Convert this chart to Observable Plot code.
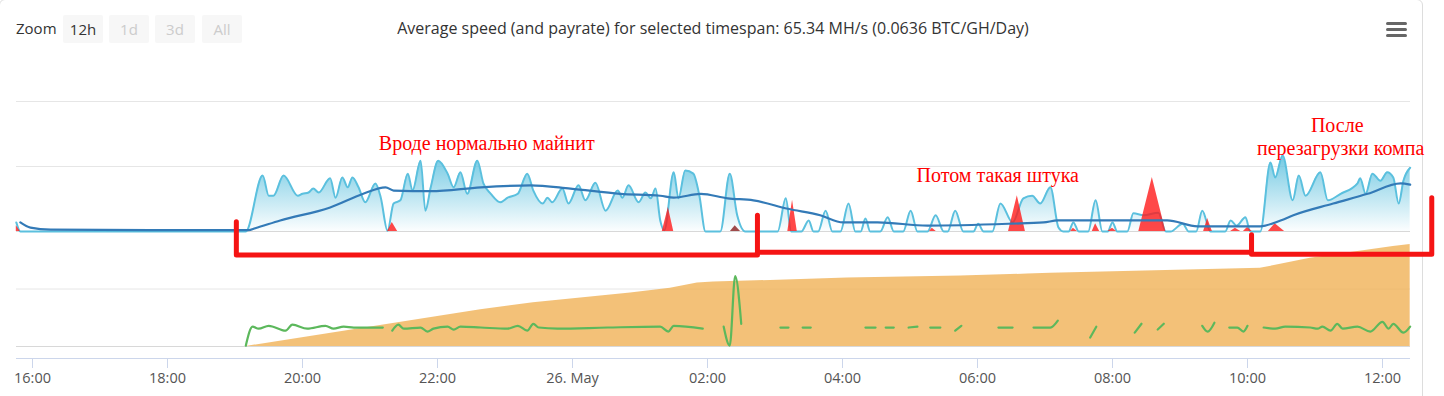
<!DOCTYPE html>
<html><head><meta charset="utf-8">
<script src="https://cdn.jsdelivr.net/npm/d3@7"></script>
<script src="https://cdn.jsdelivr.net/npm/@observablehq/plot@0.6"></script>
<style>
html,body{margin:0;padding:0;background:#fff;}
#wrap{position:relative;width:1444px;height:396px;overflow:hidden;font-family:"Open Sans",sans-serif;}
.card{position:absolute;left:-1px;top:-1px;width:1424px;height:420px;border:1px solid #ddd;border-radius:6px;box-sizing:border-box;}
.layer{position:absolute;left:0;top:0;}
.hdr{position:absolute;top:14px;height:28px;line-height:28px;font-size:15px;color:#333;white-space:nowrap;}
.btn{position:absolute;top:15px;width:40px;height:28px;line-height:28px;text-align:center;background:#f7f7f7;border-radius:2px;font-size:15px;color:#ccc;}
.bar{position:absolute;left:1386px;width:21px;height:3px;background:#666;border-radius:2px;}
</style></head>
<body>
<div id="wrap">
  <div class="card"></div>
  <div class="hdr" style="left:16px;">Zoom</div>
  <div id="btns"></div>
  <div id="title" class="hdr" style="left:0;width:1426px;text-align:center;font-size:16px;"></div>
  <div class="bar" style="top:22px"></div>
  <div class="bar" style="top:28px"></div>
  <div class="bar" style="top:34px"></div>
  <div id="bottomLayer" class="layer"></div>
  <div id="topLayer" class="layer"></div>
  <div id="axisLayer" class="layer"></div>
</div>
<script>
// ---- data (time = hours since 25 May 00:00) ----
const titleText = "Average speed (and payrate) for selected timespan: 65.34 MH/s (0.0636 BTC/GH/Day)";
const zoomButtons = ["12h", "1d", "3d", "All"];
const xDomain = [15.763, 36.415];
const tickHours = [16, 18, 20, 22, 24, 26, 28, 30, 32, 34, 36];
const tickLabels = ["16:00", "18:00", "20:00", "22:00", "26. May", "02:00", "04:00", "06:00", "08:00", "10:00", "12:00"];
const hashGrid = [0, 100, 200];
const lowerGrid = [0, 0.2];

// hashrate (MH/s)
const hashHours = [15.76,15.82,19.16,19.41,19.50,19.57,19.72,19.93,20.00,20.09,
20.16,20.24,20.41,20.49,20.59,20.67,20.74,20.83,20.93,21.08,
21.16,21.26,21.35,21.45,21.56,21.63,21.75,21.82,21.90,22.01,
22.15,22.24,22.34,22.44,22.59,22.68,22.79,22.93,23.04,23.19,
23.33,23.42,23.56,23.63,23.70,23.85,23.94,24.09,24.19,24.34,
24.49,24.67,24.74,24.83,24.98,25.08,25.16,25.23,25.30,25.36,
25.50,25.57,25.67,25.79,25.88,25.97,26.19,26.33,26.44,26.56,
27.04,27.16,27.24,27.39,27.50,27.57,27.64,27.75,27.85,27.97,
28.09,28.19,28.27,28.34,28.41,28.56,28.67,28.76,28.90,29.01,
29.11,29.26,29.38,29.50,29.56,29.67,29.79,29.94,30.01,30.09,
30.22,30.34,30.52,30.68,30.81,30.93,31.08,31.20,31.27,31.35,
31.42,31.50,31.64,31.75,31.85,31.93,32.00,32.07,32.22,32.31,
32.46,32.68,32.79,32.86,33.04,33.13,33.24,33.33,33.45,33.67,
33.75,33.84,33.97,34.04,34.19,34.34,34.41,34.52,34.67,34.76,
34.86,35.08,35.19,35.38,35.63,35.67,35.75,35.85,35.97,36.07,
36.16,36.24,36.31,36.41];
const hashMHs = [14,0,0,86,55,55,86,55,58,60,
66,60,82,52,83,68,83,68,45,74,
52,1,43,48,89,63,109,32,68,109,
89,68,91,58,109,74,58,45,52,58,
89,63,43,52,45,66,43,71,48,75,
32,63,52,71,45,60,51,66,17,2,
91,51,94,89,55,0,0,89,25,0,
0,51,0,0,17,0,0,32,0,0,
43,0,0,20,0,0,22,0,0,32,
0,0,25,0,0,32,0,0,12,0,
0,43,14,51,55,43,68,6,0,0,
14,0,0,48,0,0,14,0,0,28,
25,29,0,0,12,0,0,32,0,0,
17,9,22,0,0,106,83,117,48,86,
55,91,48,58,74,82,58,89,78,91,
83,43,78,98];

// moving average (MH/s)
const avgHours = [15.82,15.97,16.27,17.75,19.20,19.30,19.67,20.41,20.90,21.23,
21.35,21.90,22.64,23.38,23.97,24.71,25.30,25.50,25.90,26.30,
26.68,27.19,27.67,28.01,28.52,29.26,30.49,30.98,31.19,32.81,
33.26,34.19,34.49,34.68,35.27,35.78,36.27,36.41];
const avgMHs = [14,6,3,2,2,5,17,37,58,68,
63,62,68,71,66,58,55,52,58,51,
48,35,25,14,14,9,12,14,17,17,
8,8,17,25,43,58,74,72];

// rejected (MH/s)
const rejHours = [15.76,15.82, 21.26,21.33,21.41, 25.33,25.42,25.50, 27.19,27.26,27.33,
29.29,29.33,29.39, 30.46,30.59,30.71, 31.38,31.42,31.48, 31.70,31.75,31.81,
31.93,32.00,32.06, 32.39,32.59,32.79, 33.35,33.41,33.48, 33.75,33.82,33.90,
33.94,34.00,34.07, 34.31,34.41,34.55];
const rejMHs = [9,0, 0,14,0, 0,37,0, 0,48,0,
0,5,0, 0,55,0, 0,5,0, 0,12,0,
0,5,0, 0,83,0, 0,20,0, 0,5,0,
0,6,0, 0,12,0];
const staleHours = [26.34, 26.41, 26.49];
const staleMHs = [0, 9, 0];

// payrate (BTC/GH/Day), null = no data
const payHours = [19.16,19.26,19.35,19.50,19.75,19.85,20.07,20.34,20.46,20.61,20.76,21.19,21.26,
21.33,21.42,21.50,21.75,21.85,21.94,22.15,22.24,22.34,22.64,23.04,23.19,23.33,23.42,23.50,23.78,24.52,25.30,25.42,25.50,25.93,26.10,
26.24,26.33,26.41,26.50,26.80,
27.08,27.20,27.30, 27.41,27.53,27.90, 28.34,28.49,28.55, 28.64,28.76,28.85,
28.98,29.11,29.20, 29.30,29.45,29.55, 29.67,29.76,30.00, 30.31,30.52,30.60,
30.83,31.08,31.19,31.40, 31.67,31.76,32.00, 32.33,32.43,32.55, 32.67,32.76,33.00,
33.33,33.41,33.51,33.60, 33.73,33.85,33.94,34.00,34.10,
34.24,34.41,34.56,34.93,35.04,35.11,35.23,35.33,35.41,35.63,35.82,36.00,36.09,36.16,36.31,36.41];
const payRate = [0.003,0.069,0.062,0.072,0.055,0.076,0.062,0.072,0.062,0.069,0.066,0.066,null,
0.055,0.076,0.062,0.066,0.052,0.062,0.069,0.059,0.069,0.066,0.062,0.072,0.055,0.079,0.066,0.062,0.066,0.069,0.052,0.072,0.062,null,
0.069,0.003,0.245,0.079,null,
0.066,0.066,null, 0.066,0.066,null, 0.066,0.066,null, 0.066,0.066,null,
0.066,0.069,null, 0.066,0.066,null, 0.055,0.072,null, 0.066,0.066,null,
0.066,0.066,0.090,null, 0.031,0.069,null, 0.048,0.079,null, 0.059,0.079,null,
0.072,0.052,0.083,null, 0.066,0.066,0.052,0.072,null,
0.066,0.062,0.069,0.066,0.062,0.069,0.055,0.079,0.062,0.069,0.052,0.086,0.062,0.079,0.048,0.069];

// balance
const balHours = [19.16,22.64,23.42,24.86,25.45,25.85,26.09,28.07,29.75,30.74,31.08,34.19,34.49,34.93,36.16,36.41];
const balance = [0,0.128,0.152,0.186,0.203,0.221,0.224,0.238,0.245,0.252,0.255,0.272,0.286,0.307,0.348,0.355];

// hand-drawn red brackets (in hashrate coordinates)
const bracketGroup = [1,1,1,1, 2,2, 3,3,3,3];
const bracketHours = [19.02,19.02,26.74,26.74, 26.74,34.03, 34.06,34.06,36.73,36.73];
const bracketMHs = [15,-36,-36,25, -32,-32, -5,-35,-35,52];

// red notes
const noteHours = [22.73, 30.30, 35.33, 35.38];
const noteMHs = [135, 86, 163, 128];
const noteText = ["Вроде нормально майнит", "Потом такая штука", "После", "перезагрузки компа"];

// ---- build ----
const zip = (xs, ys, extra) => xs.map((x, i) => ({x, y: ys[i], g: extra ? extra[i] : 0}));
const hashData = zip(hashHours, hashMHs);
const avgData = zip(avgHours, avgMHs);
const rejData = zip(rejHours, rejMHs);
const staleData = zip(staleHours, staleMHs);
const payData = zip(payHours, payRate);
const balData = zip(balHours, balance);
const bracketData = zip(bracketHours, bracketMHs, bracketGroup);
const noteData = noteHours.map((x, i) => ({x, y: noteMHs[i], t: noteText[i]}));

document.getElementById("title").textContent = titleText;
const btns = document.getElementById("btns");
zoomButtons.forEach((b, i) => {
  const d = document.createElement("div");
  d.className = "btn";
  d.style.left = [63, 109, 155, 202][i] + "px";
  if (i === 0) d.style.color = "#333";
  d.textContent = b;
  btns.appendChild(d);
});

const W = 1444, H = 396;
const common = {width: W, height: H, marginLeft: 16, marginRight: 34,
  x: {domain: xDomain, axis: null},
  style: {background: "transparent", fontFamily: "Open Sans", overflow: "visible"}};

const bottomPlot = Plot.plot({
  ...common, marginTop: 231, marginBottom: 50,
  y: {domain: [0, 0.4], axis: null},
  marks: [
    Plot.ruleY(lowerGrid, {stroke: d => d === 0 ? "#d8d8d8" : "#e6e6e6"}),
    Plot.areaY(balData, {x: "x", y: "y", fill: "#efaf52", fillOpacity: 0.78}),
    Plot.lineY(payData, {x: "x", y: "y", stroke: "#5cb85c", strokeWidth: 2.2, curve: "monotone-x"})
  ]
});
document.getElementById("bottomLayer").appendChild(bottomPlot);

const topPlot = Plot.plot({
  ...common, marginTop: 101, marginBottom: 165,
  y: {domain: [0, 200], axis: null},
  marks: [
    Plot.ruleY(hashGrid, {stroke: d => d === 0 ? "#d8d8d8" : "#e6e6e6"}),
    Plot.areaY(hashData, {x: "x", y: "y", fill: "url(#hashGrad)", curve: "monotone-x"}),
    Plot.lineY(hashData, {x: "x", y: "y", stroke: "#5bc0de", strokeWidth: 2, curve: "monotone-x"}),
    Plot.areaY(rejData, {x: "x", y: "y", fill: "#ff1a1a", fillOpacity: 0.8}),
    Plot.areaY(staleData, {x: "x", y: "y", fill: "#8e2a2a", fillOpacity: 0.85}),
    Plot.lineY(avgData, {x: "x", y: "y", stroke: "#337ab7", strokeWidth: 2.2, curve: "monotone-x"}),
    Plot.line(bracketData, {x: "x", y: "y", z: "g", stroke: "#f51414", strokeWidth: 5, strokeLinejoin: "round", strokeLinecap: "round"}),
    Plot.text(noteData, {x: "x", y: "y", text: "t", fill: "#ff0000", fontFamily: "Liberation Serif", fontSize: 20})
  ]
});
d3.select(topPlot).insert("defs", ":first-child").html(
  '<linearGradient id="hashGrad" x1="0" y1="0" x2="0" y2="1">' +
  '<stop offset="0" stop-color="#5bc0de" stop-opacity="0.85"/>' +
  '<stop offset="1" stop-color="#5bc0de" stop-opacity="0.02"/></linearGradient>');
document.getElementById("topLayer").appendChild(topPlot);

const axisPlot = Plot.plot({
  ...common, marginTop: 358, marginBottom: 28,
  y: {domain: [0, 1], axis: null},
  marks: [
    Plot.ruleY([1], {stroke: "#ccd6eb"}),
    Plot.ruleX(tickHours, {x: d => d, y1: 0, y2: 1, stroke: "#ccd6eb"}),
    Plot.text(tickHours, {x: d => d, y: 0, dy: 10, text: (d, i) => tickLabels[i], fill: "#555", fontSize: 14.5})
  ]
});
document.getElementById("axisLayer").appendChild(axisPlot);
</script>
</body></html>
